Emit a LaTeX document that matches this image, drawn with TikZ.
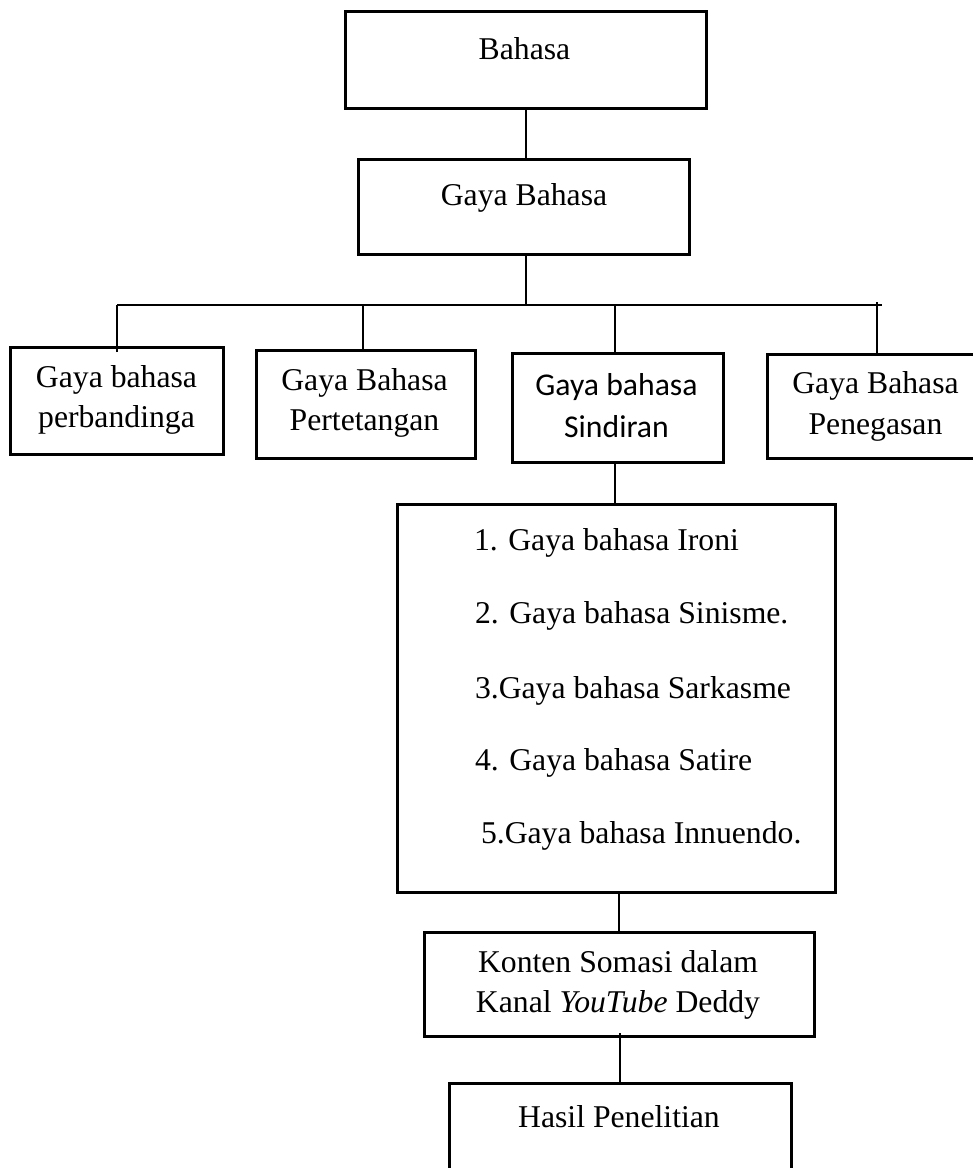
\documentclass[tikz,border=0pt]{standalone}
\usepackage{fontspec}
\setmainfont{Liberation Serif}
\newfontfamily\calibrifont{Carlito}
\begin{document}
\begin{tikzpicture}[x=1pt,y=-1pt,
  box/.style={draw=black, line width=3pt, rectangle, inner sep=0pt, outer sep=0pt},
  txt/.style={inner sep=0pt, outer sep=0pt, anchor=base, font=\fontsize{31.7}{39}\selectfont},
  ltxt/.style={txt, anchor=base west},
  ctxt/.style={txt, font=\calibrifont\fontsize{31.7}{39}\selectfont},
  conn/.style={draw=black, line width=1.6pt},
  connb/.style={draw=black, line width=2.3pt}]
\useasboundingbox (0,0) rectangle (973,1168);
\clip (0,0) rectangle (973,1168);

% boxes
\node[box, minimum width=361, minimum height=97] (bahasa) at (525.5,59.5) {};
\node[box, minimum width=331, minimum height=95] (gb) at (523.5,206.5) {};
\node[box, minimum width=213, minimum height=107] (perb) at (116.5,400.5) {};
\node[box, minimum width=219, minimum height=108] (pert) at (365.5,404) {};
\node[box, minimum width=211, minimum height=109] (sind) at (617.5,407.5) {};
\node[box, minimum width=217, minimum height=104] (pene) at (875.5,406) {};
\node[box, minimum width=438, minimum height=388] (list) at (616,698) {};
\node[box, minimum width=390, minimum height=104] (konten) at (619,984) {};
\node[box, minimum width=342, minimum height=130] (hasil) at (620,1148) {};

% texts
\node[txt] (tbahasa) at (524.5,59) {Bahasa};
\node[txt] (tgb) at (524,205) {Gaya Bahasa};
\node[txt] (tperb1) at (116.5,387) {Gaya bahasa};
\node[txt] (tperb2) at (116.5,427) {perbandinga};
\node[txt] (tpert1) at (364.5,390) {Gaya Bahasa};
\node[txt] (tpert2) at (364.5,430) {Pertetangan};
\node[ctxt] (tsind1) at (616.5,395) {Gaya bahasa};
\node[ctxt] (tsind2) at (616.5,437) {Sindiran};
\node[txt] (tpene1) at (875.5,393) {Gaya Bahasa};
\node[txt] (tpene2) at (875.5,434) {Penegasan};
\node[ltxt] (l1) at (474,550) {1. Gaya bahasa Ironi};
\node[ltxt] (l2) at (475,623) {2. Gaya bahasa Sinisme.};
\node[ltxt] (l3) at (475,698) {3.Gaya bahasa Sarkasme};
\node[ltxt] (l4) at (475,770) {4. Gaya bahasa Satire};
\node[ltxt] (l5) at (481,843) {5.Gaya bahasa Innuendo.};
\node[txt] (tkon1) at (618,972) {Konten Somasi dalam};
\node[txt] (tkon2) at (618,1012) {Kanal \textit{YouTube} Deddy};
\node[txt] (thasil) at (619,1127) {Hasil Penelitian};

% connectors
\coordinate (hub) at (526,305);
\coordinate (barL) at (117,305);
\coordinate (barR) at (882,305);
\draw[conn] (bahasa.south -| hub) -- (gb.north -| hub);
\draw[connb] (gb.south -| hub) -- (hub);
\draw[conn] (barL) -- (barR);
\draw[conn] ([yshift=-5pt]perb.north -| barL) -- (barL);
\draw[conn] (pert.north -| 363,0) -- (363,305);
\draw[connb] (sind.north -| 615,0) -- (615,305);
\draw[conn] (pene.north -| 877,0) -- (877,302);
\draw[connb] (sind.south -| 615,0) -- (list.north -| 615,0);
\draw[conn] (list.south -| 619,0) -- (konten.north -| 619,0);
\draw[conn] ([yshift=3pt]konten.south -| 620,0) -- (hasil.north -| 620,0);
\end{tikzpicture}
\end{document}
